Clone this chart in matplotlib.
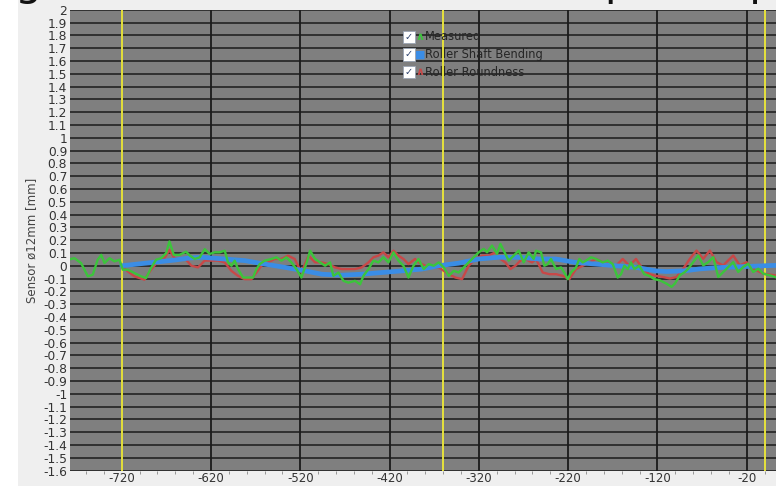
import matplotlib
matplotlib.use("Agg")
import matplotlib.pyplot as plt
from matplotlib.patches import Rectangle
from matplotlib.ticker import FixedLocator, MultipleLocator

# data
measured_pos = [
    -780.5, -773, -765.6, -758, -752.5, -747, -743, -739.4, -733.8, -728.2, -722.6, -718.9,
    -713.3, -705.8, -698.4, -692.8, -687.2, -681.6, -676, -670.4, -666.6, -661.8, -655.4, -648,
    -643.9, -638.3, -632.7, -627.1, -621.5, -615.9, -610.3, -604.7, -601, -597.2, -593.5, -589.8,
    -584.2, -578.6, -573, -569.2, -565.5, -559.9, -552.4, -546.8, -541.2, -535.6, -530, -524.4,
    -518.8, -512.8, -509.1, -503.5, -497.9, -492.3, -486.7, -483, -477.3, -471.7, -466.1, -458.7,
    -453.1, -449.3, -443.7, -438.1, -432.5, -427, -421.3, -415.7, -410.1, -404.5, -398.9, -393.3,
    -387.7, -381.8, -376.2, -370.6, -365, -359.4, -353.8, -348.2, -342.6, -337, -331.4, -325.8,
    -320.2, -314.6, -310.9, -305.3, -299.7, -295.9, -290.4, -286.6, -281, -275.4, -269.8, -264.2,
    -258.6, -256, -250.4, -246.7, -242.9, -239.2, -233.6, -228, -224.3, -220.5, -216.8, -211.2,
    -207.5, -203.7, -200, -194.4, -188.8, -181.3, -175.7, -170.1, -164.5, -160.8, -157.1, -153.3,
    -149.6, -145.9, -140.3, -134.7, -129.1, -123.5, -117.3, -109.8, -104.2, -100.5, -94.9, -89.3,
    -85.5, -79.9, -74.3, -68.7, -63.1, -57.5, -51.9, -46.3, -40.7, -35.1, -29.5, -23.9,
    -18.3, -12.7, -7.1, -1.5, 5.9, 11.9,
]
measured_mm = [
    0.047, 0.059, 0.021, -0.083, -0.07, 0.047, 0.085, 0.021, 0.059, 0.034, 0.047, -0.031,
    -0.031, -0.057, -0.083, -0.096, -0.018, 0.047, 0.059, 0.098, 0.19, 0.085, 0.085, 0.11,
    0.08, 0.053, 0.066, 0.13, 0.092, 0.105, 0.105, 0.118, 0.026, 0.0, 0.04, -0.026,
    -0.092, -0.092, -0.092, -0.026, 0.013, 0.04, 0.053, 0.066, 0.04, 0.066, 0.026, -0.026,
    -0.092, 0.026, 0.118, 0.053, 0.026, 0.0, 0.026, -0.079, -0.053, -0.118, -0.132, -0.118,
    -0.145, -0.079, -0.026, 0.04, 0.026, 0.066, 0.026, 0.105, 0.04, 0.0, -0.092, 0.0,
    0.053, -0.026, 0.013, 0.0, 0.026, -0.013, -0.079, -0.04, -0.053, -0.013, 0.026, 0.066,
    0.105, 0.132, 0.105, 0.158, 0.092, 0.171, 0.092, 0.04, 0.079, 0.118, 0.026, 0.105,
    0.053, 0.118, 0.105, 0.0, 0.013, 0.053, -0.026, -0.013, -0.053, -0.105, -0.053, -0.013,
    0.053, 0.026, 0.04, 0.066, 0.053, 0.026, 0.04, 0.013, -0.092, -0.066, 0.0, -0.026,
    0.026, -0.026, 0.0, -0.066, -0.079, -0.105, -0.114, -0.14, -0.165, -0.14, -0.075, -0.049,
    -0.023, 0.028, 0.08, 0.003, 0.028, 0.067, -0.088, -0.049, -0.01, 0.028, -0.049, -0.01,
    0.016, -0.049, -0.023, -0.062, -0.075, -0.088,
]

bending_pos = [-720, -700, -680, -660, -645, -630, -605, -582, -560, -537, -515, -496, -474,
               -451, -429, -406, -384, -365, -343, -320, -298, -275, -253, -234, -212, -189,
               -167, -144, -122, -110, -90, -73, -54, -35, -17, 0, 13]
bending_mm = [0.0, 0.015, 0.03, 0.045, 0.06, 0.066, 0.053, 0.04, 0.013, -0.013, -0.04, -0.066,
              -0.074, -0.066, -0.053, -0.04, -0.026, 0.0, 0.02, 0.053, 0.066, 0.066, 0.053,
              0.053, 0.026, 0.013, 0.0, -0.013, -0.04, -0.045, -0.04, -0.025, -0.015, -0.01,
              -0.005, 0.0, 0.003]

roundness_pos = [
    -720, -713.3, -705.8, -694.6, -687.2, -679.7, -672.2, -666.6, -661, -653.6, -648, -642,
    -634.6, -627.1, -619.6, -612.2, -604.7, -597.2, -589.8, -582.3, -574.8, -569.2, -563.6,
    -556.2, -548.7, -541.2, -533.8, -526.3, -518.8, -510.9, -503.5, -496, -488.5, -481.1,
    -473.6, -466.1, -458.7, -451.2, -443.7, -438.1, -432.5, -427, -421.3, -415.7, -410.1,
    -404.5, -398.9, -391.5, -387.4, -376.2, -365, -353.8, -346.3, -338.9, -331.4, -324,
    -316.5, -309, -301.5, -295.9, -290.4, -284.7, -279.1, -273.5, -268, -260.5, -256, -248.5,
    -241.1, -233.6, -226.1, -218.7, -211.2, -203.7, -196.3, -188.8, -181.3, -173.9, -166.4,
    -158.9, -151.5, -144, -136.5, -129.1, -121.6, -113.5, -106.1, -98.6, -91.1, -83.7, -76.2,
    -68.7, -61.3, -53.8, -46.3, -38.9, -35.1, -27.7, -20.2, -12.7, -1.5, 11.9,
]
roundness_mm = [
    0.0, -0.044, -0.083, -0.109, -0.031, 0.034, 0.059, 0.124, 0.059, 0.047, 0.047, 0.0,
    -0.013, 0.04, 0.04, 0.04, 0.026, -0.04, -0.079, -0.105, -0.105, -0.053, 0.0,
    0.026, 0.053, 0.053, 0.079, 0.053, -0.053, 0.079, 0.026, 0.026, 0.013, -0.013,
    -0.026, -0.026, -0.026, -0.013, 0.026, 0.066, 0.079, 0.105, 0.066, 0.118, 0.079,
    0.053, 0.013, 0.053, 0.026, -0.013, -0.013, -0.066, -0.092, -0.105, 0.0, 0.053,
    0.079, 0.079, 0.105, 0.053, 0.026, -0.026, 0.0, 0.04, 0.053, 0.026, 0.053, -0.053,
    -0.066, -0.066, -0.079, -0.105, -0.026, 0.0, 0.026, 0.053, 0.026, 0.026, 0.0,
    0.053, 0.0, 0.053, -0.026, -0.066, -0.079, -0.088, -0.1, -0.088, -0.023, 0.054, 0.119,
    0.054, 0.119, 0.028, 0.003, 0.054, 0.08, 0.003, 0.028, -0.023, -0.062, -0.075,
]

revolution_marks = [-720, -360, 0]
x_ticks = [-720, -620, -520, -420, -320, -220, -120, -20]
y_ticks = [round(-1.6 + 0.1 * i, 1) for i in range(37)]
series_labels = ["Measured", "Roller Shaft Bending", "Roller Roundness"]
series_colors = ["#3cc43c", "#3a8de6", "#c84848"]

W, H = 776, 486
fig = plt.figure(figsize=(W / 100, H / 100), dpi=100, facecolor="#efefef")
fig.patches.append(Rectangle((0, 0), 18 / W, 1, transform=fig.transFigure,
                             facecolor="white", edgecolor="none", zorder=0))

ax_l, ax_t, ax_b = 70, 9.8, 470.5
ax = fig.add_axes([ax_l / W, 1 - ax_b / H, 1 - ax_l / W, (ax_b - ax_t) / H])
ax.set_facecolor("#7f7f7f")

# cut-off title at the very top
fig.text(-0.51, 1.011, "Roller Shaft Bending and Roundness Sensor Top Group",
         fontsize=31, color="#111111", ha="left", va="baseline")

ax.set_xlim(-778, 12.8)
ax.set_ylim(-1.6, 2.0)

for y in y_ticks:
    ax.axhline(y, color="#1b1b1b", lw=1.1, zorder=1)
for x in x_ticks:
    ax.axvline(x, color="#1b1b1b", lw=1.3, zorder=1)
for x in revolution_marks:
    ax.axvline(x, color="#e6e23c", lw=1.4, zorder=2)

ax.plot(roundness_pos, roundness_mm, color=series_colors[2], lw=1.7, zorder=3)
ax.plot(bending_pos, bending_mm, color=series_colors[1], lw=3.4, zorder=4,
        solid_capstyle="round")
ax.plot(measured_pos, measured_mm, color=series_colors[0], lw=1.7, zorder=5)

ax.xaxis.set_major_locator(FixedLocator(x_ticks))
ax.xaxis.set_minor_locator(MultipleLocator(20))
ax.set_xticklabels([str(v) for v in x_ticks])
ax.yaxis.set_major_locator(FixedLocator(y_ticks))
ax.set_yticklabels([("%g" % v) if v != 0 else "0" for v in y_ticks])
ax.tick_params(axis="y", length=0, pad=2, labelsize=8.8, labelcolor="#333333")
ax.tick_params(axis="x", which="major", length=0, pad=1, labelsize=8.5,
               labelcolor="#333333")
ax.tick_params(axis="x", which="minor", length=2, color="#888888", direction="out")
for s in ax.spines.values():
    s.set_visible(False)

ax.set_ylabel("Sensor ø12mm [mm]", fontsize=8.5, color="#444444", labelpad=4)

# checkbox legend
icons = ["∧", "■", "∧"]
for i, (lab, col, ic) in enumerate(zip(series_labels, series_colors, icons)):
    py = 37 + 17.5 * i
    yf = (ax_b - py) / (ax_b - ax_t)
    ax.text((409 - ax_l) / (W - ax_l), yf, "✓", transform=ax.transAxes, fontsize=7,
            color="#2a3f6a", ha="center", va="center", zorder=6,
            bbox=dict(boxstyle="square,pad=0.15", fc="white", ec="#9aa4b4", lw=0.6))
    ax.text((420 - ax_l) / (W - ax_l), yf, ic, transform=ax.transAxes, fontsize=8,
            color=col, ha="center", va="center", fontweight="bold", zorder=6)
    ax.text((425 - ax_l) / (W - ax_l), yf, lab, transform=ax.transAxes, fontsize=8.3,
            color="#262626", ha="left", va="center", zorder=6)

fig.savefig("out.png", dpi=100, facecolor=fig.get_facecolor())
